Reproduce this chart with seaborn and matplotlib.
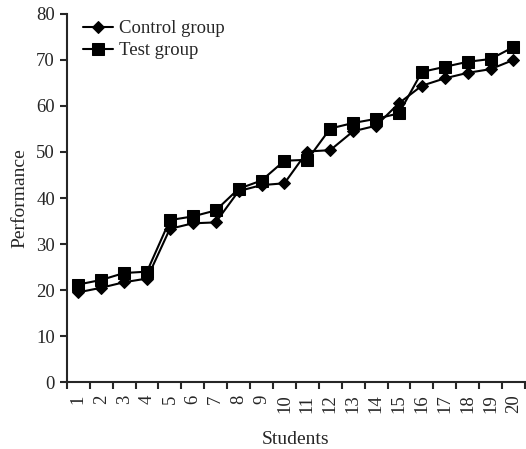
import matplotlib
matplotlib.use('Agg')
import matplotlib.pyplot as plt
import numpy as np
import pandas as pd
import seaborn as sns

# values
students = list(range(1, 21))
control = [19.5, 20.5, 21.7, 22.5, 33.3, 34.5, 34.7, 41.5, 42.8, 43.2,
           50.1, 50.4, 54.5, 55.7, 60.6, 64.4, 66.0, 67.2, 68.0, 70.0]
test = [21.2, 22.2, 23.7, 24.0, 35.2, 36.0, 37.3, 42.0, 43.8, 48.1,
        48.3, 55.1, 56.3, 57.2, 58.4, 67.4, 68.5, 69.6, 70.2, 72.8]

df = pd.DataFrame({'Students': students, 'Control group': control, 'Test group': test})

sns.set_style("ticks")
plt.rcParams['font.family'] = ['Liberation Serif', 'DejaVu Serif']

fig, ax = plt.subplots(figsize=(5.26, 4.49), dpi=100)
fig.subplots_adjust(left=0.127, right=0.998, top=0.969, bottom=0.149)

sns.lineplot(data=df, x='Students', y='Control group', marker='D', markersize=6,
             color='black', linewidth=1.5, markeredgecolor='black',
             label='Control group', ax=ax)
sns.lineplot(data=df, x='Students', y='Test group', marker='s', markersize=8,
             color='black', linewidth=1.5, markeredgecolor='black',
             label='Test group', ax=ax)

ax.set_xlim(0.5, 20.5)
ax.set_ylim(0, 80)
ax.set_yticks(np.arange(0, 81, 10))
ax.set_xticks(students)
ax.set_xticklabels([str(s) for s in students], rotation=90)
ax.set_xticks(np.arange(0.5, 21, 1), minor=True)
ax.tick_params(axis='x', which='major', length=0, labelsize=13.5, pad=9)
ax.tick_params(axis='x', which='minor', length=5, width=1.5, direction='out')
ax.tick_params(axis='y', length=5, width=1.5, labelsize=13.5)

ax.set_xlabel('Students', fontsize=14, labelpad=13)
ax.set_ylabel('Performance', fontsize=14, labelpad=6)

for side in ['right', 'top']:
    ax.spines[side].set_visible(False)
for side in ['left', 'bottom']:
    ax.spines[side].set_linewidth(1.5)

ax.legend(loc='upper left', frameon=False, fontsize=13.5, handlelength=1.6,
          handletextpad=0.3, borderaxespad=0.0, labelspacing=0.25,
          bbox_to_anchor=(0.02, 1.003))

plt.savefig('out.png', dpi=100)
